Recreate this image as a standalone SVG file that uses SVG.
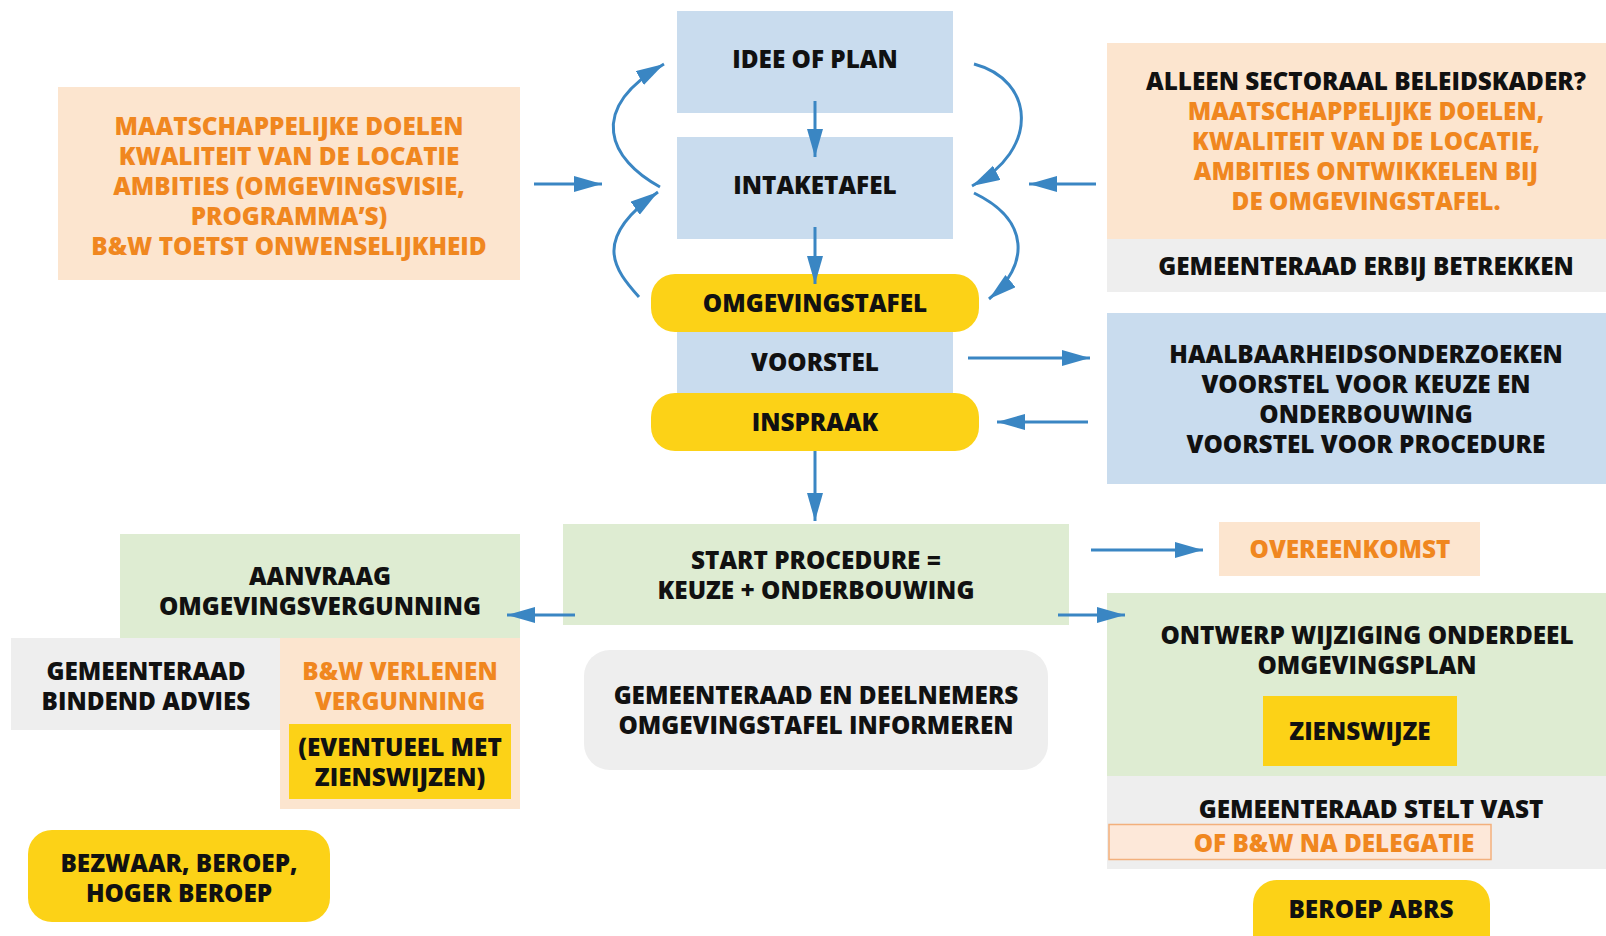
<svg xmlns="http://www.w3.org/2000/svg" width="1606" height="936" viewBox="0 0 1606 936">
<defs>
<style>
text{font-family:"Open Sans","Noto Sans","Liberation Sans",sans-serif;font-weight:800;font-size:24.3px;text-anchor:middle;fill:#111}
.o{fill:#f0871f}
.blue{fill:#c9dcee}
.peach{fill:#fce5cf}
.gray{fill:#eeeeee}
.green{fill:#deecd2}
.yellow{fill:#fcd217}
.arr{fill:none;stroke:#3a86c3;stroke-width:3;marker-end:url(#ah)}
</style>
<marker id="ah" markerUnits="userSpaceOnUse" markerWidth="30" markerHeight="18" refX="28" refY="8" orient="auto"><path d="M0,0 L28,8 L0,16 z" fill="#3a86c3"/></marker>
</defs>
<rect width="1606" height="936" fill="#fff"/>

<g id="maatschappelijke-doelen">
<rect class="peach" x="58" y="87" width="462" height="193"/>
<text class="o" x="289" y="135">MAATSCHAPPELIJKE DOELEN</text>
<text class="o" x="289" y="165">KWALITEIT VAN DE LOCATIE</text>
<text class="o" x="289" y="195">AMBITIES (OMGEVINGSVISIE,</text>
<text class="o" x="289" y="225">PROGRAMMA’S)</text>
<text class="o" x="289" y="255">B&amp;W TOETST ONWENSELIJKHEID</text>
</g>

<g id="idee-of-plan">
<rect class="blue" x="677" y="11" width="276" height="102"/>
<text x="815" y="68">IDEE OF PLAN</text>
</g>
<g id="intaketafel">
<rect class="blue" x="677" y="137" width="276" height="102"/>
<text x="815" y="194">INTAKETAFEL</text>
</g>
<g id="voorstel">
<rect class="blue" x="677" y="320" width="276" height="85"/>
<text x="815" y="371">VOORSTEL</text>
</g>
<g id="omgevingstafel">
<rect class="yellow" x="651" y="274" width="328" height="58" rx="24"/>
<text x="815" y="312">OMGEVINGSTAFEL</text>
</g>
<g id="inspraak">
<rect class="yellow" x="651" y="393" width="328" height="58" rx="24"/>
<text x="815" y="431">INSPRAAK</text>
</g>

<g id="sectoraal">
<rect class="peach" x="1107" y="43" width="499" height="196"/>
<text x="1366" y="90">ALLEEN SECTORAAL BELEIDSKADER?</text>
<text class="o" x="1366" y="120">MAATSCHAPPELIJKE DOELEN,</text>
<text class="o" x="1366" y="150">KWALITEIT VAN DE LOCATIE,</text>
<text class="o" x="1366" y="180">AMBITIES ONTWIKKELEN BIJ</text>
<text class="o" x="1366" y="210">DE OMGEVINGSTAFEL.</text>
</g>
<g id="gemeenteraad-erbij">
<rect class="gray" x="1107" y="239" width="499" height="53"/>
<text x="1366" y="275">GEMEENTERAAD ERBIJ BETREKKEN</text>
</g>
<g id="haalbaarheid">
<rect class="blue" x="1107" y="313" width="499" height="171"/>
<text x="1366" y="363">HAALBAARHEIDSONDERZOEKEN</text>
<text x="1366" y="393">VOORSTEL VOOR KEUZE EN</text>
<text x="1366" y="423">ONDERBOUWING</text>
<text x="1366" y="453">VOORSTEL VOOR PROCEDURE</text>
</g>

<g id="start-procedure">
<rect class="green" x="563" y="524" width="506" height="101"/>
<text x="816" y="569">START PROCEDURE =</text>
<text x="816" y="599">KEUZE + ONDERBOUWING</text>
</g>
<g id="informeren">
<rect class="gray" x="584" y="650" width="464" height="120" rx="26"/>
<text x="816" y="704">GEMEENTERAAD EN DEELNEMERS</text>
<text x="816" y="734">OMGEVINGSTAFEL INFORMEREN</text>
</g>

<g id="aanvraag">
<rect class="green" x="120" y="534" width="400" height="104"/>
<text x="320" y="585">AANVRAAG</text>
<text x="320" y="615">OMGEVINGSVERGUNNING</text>
</g>
<g id="bindend-advies">
<rect class="gray" x="11" y="638" width="269" height="92"/>
<text x="146" y="680">GEMEENTERAAD</text>
<text x="146" y="710">BINDEND ADVIES</text>
</g>
<g id="bw-verlenen">
<rect class="peach" x="280" y="638" width="240" height="171"/>
<text class="o" x="400" y="680">B&amp;W VERLENEN</text>
<text class="o" x="400" y="710">VERGUNNING</text>
<rect class="yellow" x="289" y="724" width="222" height="75"/>
<text x="400" y="756">(EVENTUEEL MET</text>
<text x="400" y="786">ZIENSWIJZEN)</text>
</g>
<g id="bezwaar">
<rect class="yellow" x="28" y="830" width="302" height="92" rx="24"/>
<text x="179" y="872">BEZWAAR, BEROEP,</text>
<text x="179" y="902">HOGER BEROEP</text>
</g>

<g id="overeenkomst">
<rect class="peach" x="1219" y="522" width="261" height="54"/>
<text class="o" x="1350" y="558">OVEREENKOMST</text>
</g>
<g id="ontwerp">
<rect class="green" x="1107" y="593" width="499" height="183"/>
<text x="1367" y="644">ONTWERP WIJZIGING ONDERDEEL</text>
<text x="1367" y="674">OMGEVINGSPLAN</text>
<rect class="yellow" x="1263" y="696" width="194" height="70"/>
<text x="1360" y="740">ZIENSWIJZE</text>
</g>
<g id="stelt-vast">
<rect class="gray" x="1107" y="776" width="499" height="93"/>
<text x="1371" y="818">GEMEENTERAAD STELT VAST</text>
<rect x="1109" y="824.5" width="382" height="35" fill="#fde8d9" stroke="#f3b07c" stroke-width="1.5"/>
<text class="o" x="1334" y="852">OF B&amp;W NA DELEGATIE</text>
</g>
<g id="beroep-abrs">
<rect class="yellow" x="1253" y="880" width="237" height="90" rx="24"/>
<text x="1371" y="918">BEROEP ABRS</text>
</g>

<g id="connectors">
<path class="arr" d="M534,184 L602,184"/>
<path class="arr" d="M815,101 L815,157"/>
<path class="arr" d="M815,227 L815,284"/>
<path class="arr" d="M815,451 L815,521"/>
<path class="arr" d="M1096,184 L1029,184"/>
<path class="arr" d="M968,358 L1090,358"/>
<path class="arr" d="M1088,422 L997,422"/>
<path class="arr" d="M575,615 L507,615"/>
<path class="arr" d="M1091,550 L1203,550"/>
<path class="arr" d="M1058,615 L1125,615"/>
<path class="arr" d="M660,187 C610,160 585,110 664,64"/>
<path class="arr" d="M639,297 C615,270 590,240 658,192"/>
<path class="arr" d="M974,64 C1035,80 1040,150 972,186"/>
<path class="arr" d="M974,193 C1030,220 1030,265 989,299"/>
</g>
</svg>
